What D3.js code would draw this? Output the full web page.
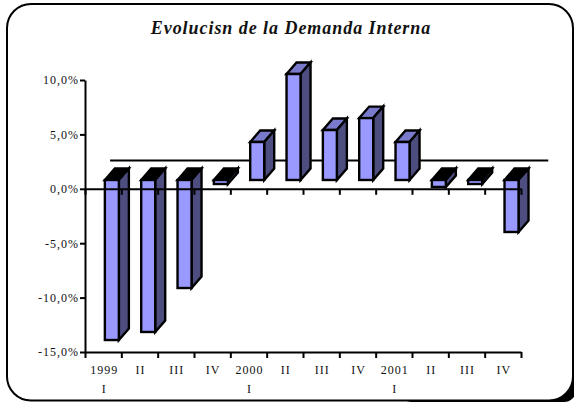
<!DOCTYPE html>
<html>
<head>
<meta charset="utf-8">
<script src="https://cdn.jsdelivr.net/npm/d3@7"></script>
<style>
  html, body { margin: 0; padding: 0; background: #fff; }
  svg { display: block; }
  text { font-family: "Liberation Serif", serif; fill: #111; }
</style>
</head>
<body>
<svg id="chart"></svg>
<script>
// Values
const titleText = "Evolucisn de la Demanda Interna";
const quarters = ["1999 I", "II", "III", "IV", "2000 I", "II", "III", "IV", "2001 I", "II", "III", "IV"];
const demand = [-13.9, -13.16, -9.12, 0.44, 4.3, 10.55, 5.4, 6.5, 4.3, 0.17, 0.44, -3.97];
const yTicks = [-15, -10, -5, 0, 5, 10];
// the front of the 3D bars sits above the real zero line
const floorValue = 0.81;
// flat line behind the bars: band positions (in quarters) and level
const meanSpan = [0.19, 12.25];
const meanValue = 2.6;

const width = 574, height = 402;
const depthX = 10, depthY = 11.5;
const barShift = 8.7;

const svg = d3.select("#chart").attr("width", width).attr("height", height);

// Frame, the shadow only shows as a crescent in the bottom right corner
svg.append("rect")
    .attr("x", 400).attr("y", 300).attr("width", 176).attr("height", 102)
    .attr("rx", 12).attr("fill", "black");
svg.append("rect")
    .attr("x", 7).attr("y", 4).attr("width", 566).attr("height", 396.5)
    .attr("rx", 24).attr("fill", "white").attr("stroke", "black").attr("stroke-width", 2);

svg.append("text")
    .attr("x", 291).attr("y", 34)
    .attr("text-anchor", "middle")
    .attr("font-size", 18).attr("font-weight", "bold").attr("font-style", "italic")
    .attr("letter-spacing", 0.95)
    .text(titleText);

// Scales
let x = d3.scaleBand().domain(d3.range(quarters.length)).range([85, 521]);
let edge = d3.scaleLinear().domain([0, quarters.length]).range([85, 521]);
let y = d3.scaleLinear().domain([-15, 10]).range([352, 80]);

// Flat line goes behind the bars
svg.append("line")
    .attr("x1", edge(meanSpan[0] + 0.5)).attr("x2", edge(meanSpan[1] + 0.5))
    .attr("y1", y(meanValue)).attr("y2", y(meanValue))
    .attr("stroke", "black").attr("stroke-width", 2);

// 3D bars
let bars = svg.append("g").attr("stroke", "black").attr("stroke-width", 2.4).attr("stroke-linejoin", "miter");
demand.forEach((v, i) => {
  let w = 14;
  let x0 = x(i) + x.bandwidth() / 2 + barShift - w / 2;
  let x1 = x0 + w;
  let top = Math.min(y(v), y(floorValue));
  let bottom = Math.max(y(v), y(floorValue));

  bars.append("polygon")
      .attr("points", [[x0, top], [x0 + depthX, top - depthY], [x1 + depthX, top - depthY], [x1, top]].join(" "))
      .attr("fill", v < floorValue ? "black" : "#7a7acc");
  bars.append("polygon")
      .attr("points", [[x1, top], [x1 + depthX, top - depthY], [x1 + depthX, bottom - depthY], [x1, bottom]].join(" "))
      .attr("fill", "#4d4d80");
  bars.append("rect")
      .attr("x", x0).attr("y", top)
      .attr("width", w).attr("height", bottom - top)
      .attr("fill", "#9999ff");
});

// Axes
function styleAxis(g) {
  g.selectAll("path, line").attr("stroke", "black").attr("stroke-width", 2);
  g.selectAll("text").attr("font-size", 12).attr("letter-spacing", 1)
      .attr("font-family", "Liberation Serif").attr("fill", "#111");
}

let yAxis = d3.axisLeft(y).tickValues(yTicks).tickSize(5).tickSizeOuter(0).tickPadding(1)
    .tickFormat(d => d3.format(".1f")(d).replace(".", ",").replace("\u2212", "-") + "%");
svg.append("g").attr("transform", "translate(85,0)").call(yAxis).call(styleAxis);

let xTicks = d3.axisBottom(edge).tickValues(d3.range(quarters.length + 1)).tickSize(6).tickSizeOuter(0).tickFormat("");
svg.append("g").attr("transform", `translate(0,${y(0)})`).call(xTicks).call(styleAxis);
svg.append("g").attr("transform", `translate(0,${y(-15)})`).call(xTicks).call(styleAxis);

// Quarter labels, year labels wrap on two rows
quarters.forEach((q, i) => {
  q.split(" ").forEach((part, row) => {
    svg.append("text")
        .attr("x", x(i) + x.bandwidth() / 2 + 1)
        .attr("y", 374 + row * 19)
        .attr("text-anchor", "middle")
        .attr("font-size", 12).attr("letter-spacing", 1)
        .text(part);
  });
});
</script>
</body>
</html>
